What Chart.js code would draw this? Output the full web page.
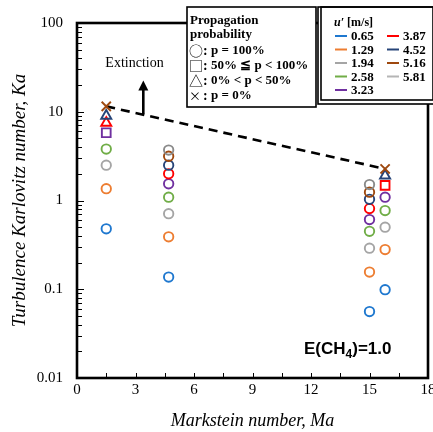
<!DOCTYPE html>
<html><head><meta charset="utf-8">
<script src="https://cdn.jsdelivr.net/npm/chart.js@4"></script>
<style>html,body{margin:0;padding:0;background:#fff}canvas{display:block}</style>
</head><body>
<canvas id="c" width="433" height="432"></canvas>
<script>
// Markstein number of each flame condition
const maPoints = [1.5, 4.7, 15.0, 15.8];

// Turbulence intensity u' [m/s] of each series
const uPrimeLabels = ['0.65', '1.29', '1.94', '2.58', '3.23', '3.87', '4.52', '5.16', '5.81'];
const seriesColors = ['#1f78cf', '#ed7d31', '#a5a5a5', '#70ad47', '#7030a0', '#ff0000', '#264478', '#9e480e', '#8a8a8a'];

// Karlovitz number Ka per series (one value per Markstein number)
const ka065 = [0.48, 0.137, 0.056, 0.099];
const ka129 = [1.36, 0.39, 0.156, 0.28];
const ka194 = [2.5, 0.71, 0.29, 0.50];
const ka258 = [3.8, 1.09, 0.45, 0.77];
const ka323 = [5.8, 1.54, 0.61, 1.09];
const ka387 = [7.5, 2.0, 0.81, 1.48];
const ka452 = [9.0, 2.5, 1.03, 1.91];
const ka516 = [11.5, 3.15, 1.24, 2.27];
const ka581 = [null, 3.7, 1.51, null];

// Propagation probability class: c = 100%, s = 50-100%, t = 0-50%, x = 0%
const prob065 = ['c', 'c', 'c', 'c'];
const prob129 = ['c', 'c', 'c', 'c'];
const prob194 = ['c', 'c', 'c', 'c'];
const prob258 = ['c', 'c', 'c', 'c'];
const prob323 = ['s', 'c', 'c', 'c'];
const prob387 = ['t', 'c', 'c', 's'];
const prob452 = ['t', 'c', 'c', 't'];
const prob516 = ['x', 'c', 'c', 'x'];
const prob581 = ['c', 'c', 'c', 'c'];

// Extinction boundary (dashed line)
const extinctionMa = [1.5, 15.8];
const extinctionKa = [11.5, 2.27];

// Axis ticks
const xTickValues = [0, 3, 6, 9, 12, 15, 18];
const yTickValues = [0.01, 0.1, 1, 10, 100];
const yTickLabels = ['0.01', '0.1', '1', '10', '100'];

// Propagation probability key
const probKeySymbols = ['\u25CB', '\u25A1', '\u25B3', '\u00D7'];
const probKeyTexts = ['p = 100%', '50% \u2266 p < 100%', '0% < p < 50%', 'p = 0%'];

const kaSeries = [ka065, ka129, ka194, ka258, ka323, ka387, ka452, ka516, ka581];
const probSeries = [prob065, prob129, prob194, prob258, prob323, prob387, prob452, prob516, prob581];

const styleOf = { c: 'circle', s: 'rect', t: 'triangle', x: 'crossRot' };
const radiusOf = { c: 4.7, s: 6.2, t: 5.8, x: 6.5 };

const datasets = [];
datasets.push({
  type: 'line',
  label: 'extinction',
  data: extinctionMa.map((x, i) => ({ x, y: extinctionKa[i] })),
  borderColor: '#000',
  borderWidth: 2.6,
  borderDash: [9, 6],
  pointRadius: 0,
  fill: false,
  order: 20
});
kaSeries.forEach((ka, s) => {
  const pts = [], styles = [], radii = [];
  ka.forEach((v, i) => {
    if (v == null) return;
    pts.push({ x: maPoints[i], y: v });
    styles.push(styleOf[probSeries[s][i]]);
    radii.push(radiusOf[probSeries[s][i]]);
  });
  datasets.push({
    type: 'scatter',
    label: uPrimeLabels[s],
    data: pts,
    pointStyle: styles,
    pointRadius: radii,
    borderColor: seriesColors[s],
    backgroundColor: 'rgba(0,0,0,0)',
    pointBorderWidth: 1.9,
    showLine: false,
    order: 10 - s
  });
});

const SERIF = '"Liberation Serif", "DejaVu Serif", serif';
const CJK = '"Noto Sans CJK JP", "Noto Sans", sans-serif';

// Plot area extends to the right edge; the last x label is allowed to overflow
const plotRight = {
  id: 'plotRight',
  afterLayout(chart) {
    const x = chart.scales.x, a = chart.chartArea;
    const right = chart.width - 5;
    a.right = right; a.width = a.right - a.left;
    x.right = right; x.width = x.right - x.left;
    x.configure();
  }
};

const decorations = {
  id: 'decorations',
  afterDatasetsDraw(chart) {
    const { ctx, chartArea: a, scales: { x, y } } = chart;
    ctx.save();
    // inward ticks
    ctx.strokeStyle = '#000';
    ctx.lineWidth = 1;
    for (let m = 0; m <= 18.001; m += 1.5) {
      const px = Math.round(x.getPixelForValue(m)) + 0.5;
      ctx.beginPath(); ctx.moveTo(px, a.bottom); ctx.lineTo(px, a.bottom - 5); ctx.stroke();
    }
    for (let e = -2; e < 2; e++) {
      for (let k = 1; k <= 9; k++) {
        const py = Math.round(y.getPixelForValue(k * Math.pow(10, e))) + 0.5;
        ctx.beginPath(); ctx.moveTo(a.left, py); ctx.lineTo(a.left + (k === 1 ? 7 : 5), py); ctx.stroke();
      }
    }
    // plot frame
    ctx.lineWidth = 2.6;
    ctx.strokeRect(a.left, a.top, a.right - a.left, a.bottom - a.top);

    // extinction arrow
    const ax = x.getPixelForValue(3.4);
    const ay0 = y.getPixelForValue(9.4), ay1 = y.getPixelForValue(22.5);
    ctx.lineWidth = 2.6;
    ctx.beginPath(); ctx.moveTo(ax, ay0); ctx.lineTo(ax, ay1 + 8); ctx.stroke();
    ctx.fillStyle = '#000';
    ctx.beginPath(); ctx.moveTo(ax, ay1); ctx.lineTo(ax - 5, ay1 + 10); ctx.lineTo(ax + 5, ay1 + 10); ctx.closePath(); ctx.fill();
    ctx.font = '14px ' + SERIF;
    ctx.textAlign = 'center'; ctx.textBaseline = 'middle';
    ctx.fillText('Extinction', x.getPixelForValue(2.95), y.getPixelForValue(35));

    // equivalence ratio label
    ctx.font = 'bold 17px "Liberation Sans", Arial, sans-serif';
    ctx.textAlign = 'left'; ctx.textBaseline = 'alphabetic';
    let tx = 304; const ty = 354;
    ctx.fillText('E(CH', tx, ty); tx += ctx.measureText('E(CH').width;
    ctx.font = 'bold 12px "Liberation Sans", Arial, sans-serif';
    ctx.fillText('4', tx, ty + 4); tx += ctx.measureText('4').width;
    ctx.font = 'bold 17px "Liberation Sans", Arial, sans-serif';
    ctx.fillText(')=1.0', tx, ty);

    // propagation probability key
    ctx.fillStyle = '#fff';
    ctx.fillRect(187, 7, 129, 100);
    ctx.lineWidth = 1.6; ctx.strokeStyle = '#000';
    ctx.strokeRect(187, 7, 129, 100);
    ctx.fillStyle = '#000';
    ctx.font = 'bold 13px ' + SERIF;
    ctx.textBaseline = 'middle';
    ctx.fillText('Propagation', 190, 21);
    ctx.fillText('probability', 190, 35);
    probKeySymbols.forEach((sym, i) => {
      const ly = 51 + i * 15;
      ctx.font = (i === 3 ? '12px ' : '14px ') + CJK;
      ctx.fillText(sym, 189, ly);
      ctx.font = 'bold 14px ' + SERIF;
      ctx.fillText(':', 203, ly);
      ctx.font = 'bold 13px ' + SERIF;
      ctx.fillText(probKeyTexts[i], 211, ly);
    });

    // u' key
    ctx.fillStyle = '#fff';
    ctx.fillRect(318, 7, 115, 97);
    ctx.lineWidth = 1.6;
    ctx.strokeRect(318, 7, 118, 97);
    ctx.strokeRect(321, 7, 112, 93);
    ctx.fillStyle = '#000';
    ctx.font = 'italic bold 12px ' + SERIF;
    ctx.fillText('u\u2032', 334, 23);
    const uw = ctx.measureText('u\u2032').width;
    ctx.font = 'bold 12px ' + SERIF;
    ctx.fillText(' [m/s]', 334 + uw, 23);
    ctx.font = 'bold 13px ' + SERIF;
    uPrimeLabels.forEach((lab, i) => {
      const col = i < 5 ? 0 : 1;
      const row = i < 5 ? i : i - 5;
      const lx = col === 0 ? 335 : 387;
      const ly = 36 + row * 13.5;
      ctx.strokeStyle = i === 8 ? '#b5b5b5' : seriesColors[i];
      ctx.lineWidth = 2;
      ctx.beginPath(); ctx.moveTo(lx, ly); ctx.lineTo(lx + 12, ly); ctx.stroke();
      ctx.fillStyle = '#000';
      ctx.fillText(lab, lx + 16, ly + 1);
    });
    ctx.restore();
  }
};

new Chart(document.getElementById('c'), {
  data: { datasets },
  options: {
    responsive: false,
    animation: false,
    events: [],
    layout: { padding: { top: 22, right: 5, left: 0, bottom: 0 } },
    plugins: { legend: { display: false }, tooltip: { enabled: false } },
    scales: {
      x: {
        type: 'linear', min: 0, max: 18,
        afterFit(s) { s.height = 54; },
        afterBuildTicks(s) { s.ticks = xTickValues.map(v => ({ value: v })); },
        grid: { display: false, drawTicks: false },
        border: { display: false },
        ticks: { font: { family: SERIF, size: 15 }, color: '#000', padding: 3, maxRotation: 0 },
        title: { display: true, text: 'Markstein number, Ma', color: '#000',
          font: { family: SERIF, size: 18, style: 'italic' }, padding: { top: 0, bottom: 0 } }
      },
      y: {
        type: 'logarithmic', min: 0.01, max: 100,
        afterFit(s) { s.width = 77; },
        afterBuildTicks(s) { s.ticks = yTickValues.map(v => ({ value: v })); },
        grid: { display: false, drawTicks: false },
        border: { display: false },
        ticks: { font: { family: SERIF, size: 15 }, color: '#000', padding: 14,
          callback: (v) => { const i = yTickValues.indexOf(v); return i >= 0 ? yTickLabels[i] : ''; } },
        title: { display: true, text: 'Turbulence Karlovitz number, Ka', color: '#000',
          font: { family: SERIF, size: 19, style: 'italic' }, padding: { top: 9, bottom: 0 } }
      }
    }
  },
  plugins: [plotRight, decorations]
});
</script>
</body></html>
